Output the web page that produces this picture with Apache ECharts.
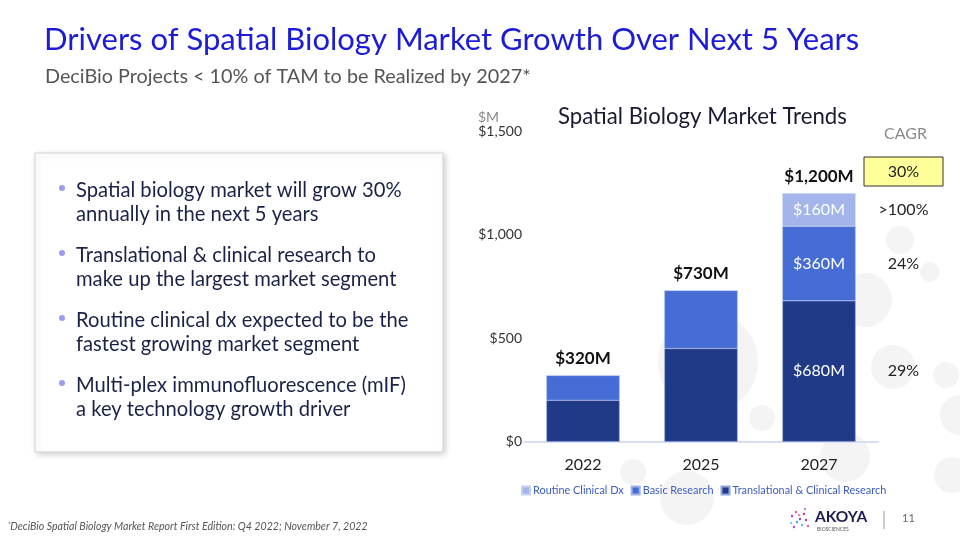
<!DOCTYPE html>
<html><head><meta charset="utf-8">
<script src="https://cdn.jsdelivr.net/npm/echarts@6/dist/echarts.min.js"></script>
<style>html,body{margin:0;padding:0;background:#fff}#c{width:960px;height:540px}</style>
</head><body><div id="c"></div>
<script>
const categories = ['2022', '2025', '2027'];
const translational = [200, 450, 680];
const basic = [120, 280, 360];
const routine = [0, 0, 160];
const seriesNames = ['Translational & Clinical Research', 'Basic Research', 'Routine Clinical Dx'];
const cagrSegments = ['29%', '24%', '>100%'];
const cagrTotal = '30%';
const yTicks = [0, 500, 1000, 1500];
const bullets = [
  ['Spatial biology market will grow 30%', 'annually in the next 5 years'],
  ['Translational & clinical research to', 'make up the largest market segment'],
  ['Routine clinical dx expected to be the', 'fastest growing market segment'],
  ['Multi-plex immunofluorescence (mIF)', 'a key technology growth driver']
];

const totals = categories.map((c, i) => translational[i] + basic[i] + routine[i]);
const colors = { dark: '#213a88', mid: '#466cd5', light: '#a3b5ea' };
const fmtMoney = v => '$' + v.toLocaleString('en-US');

const chart = echarts.init(document.getElementById('c'), null, { renderer: 'canvas' });

const bubbles = [
  [865, 300, 27], [930, 272, 10], [708, 362, 50], [762, 418, 13], [893, 367, 22],
  [946, 375, 13], [960, 415, 20], [633, 472, 13], [687, 498, 27], [845, 457, 25],
  [952, 475, 18], [900, 240, 14]
];

const insideLabel = (arr) => arr.map((v, i) => ({
  value: v,
  label: { show: i === 2 && v > 0 }
}));

const labelCfg = {
  position: 'inside', color: '#ffffff', fontSize: 16,
  fontFamily: 'Lato, sans-serif',
  formatter: p => '$' + p.value + 'M'
};

const graphics = [];
bubbles.forEach(b => graphics.push({
  type: 'circle', shape: { cx: b[0], cy: b[1], r: b[2] }, style: { fill: '#f4f4f4' }, z: -10, silent: true
}));

graphics.push(
  { type: 'text', left: 44, top: 24, style: { text: 'Drivers of Spatial Biology Market Growth Over Next 5 Years', fill: '#1c1cd8', font: '31px Lato, sans-serif' } },
  { type: 'text', left: 45, top: 67, style: { text: 'DeciBio Projects < 10% of TAM to be Realized by 2027*', fill: '#555555', font: '19.8px Lato, sans-serif' } },
  { type: 'rect', shape: { x: 35, y: 153, width: 408, height: 299 }, style: { fill: '#ffffff', stroke: '#d4d4d4', lineWidth: 1, shadowBlur: 6, shadowColor: 'rgba(0,0,0,0.18)', shadowOffsetX: 2, shadowOffsetY: 2 }, z: 1 },
  { type: 'text', left: 478, top: 110, style: { text: '$M', fill: '#8a8a8a', font: '14px Lato, sans-serif' } },
  { type: 'text', left: 884, top: 126, style: { text: 'CAGR', fill: '#8a8a8a', font: '16px Lato, sans-serif' } },
  { type: 'rect', shape: { x: 864, y: 157, width: 79, height: 29 }, style: { fill: '#ffff99', stroke: '#333333', lineWidth: 1 }, z: 5 },
  { type: 'text', x: 903.5, y: 172, style: { text: cagrTotal, fill: '#222', font: '16px Lato, sans-serif', textAlign: 'center', textVerticalAlign: 'middle' }, z: 6 },
  { type: 'text', left: 8, top: 521, style: { text: '{s|*}{t|DeciBio Spatial Biology Market Report First Edition: Q4 2022; November 7, 2022}', rich: { s: { fontSize: 6, fill: '#666', verticalAlign: 'top', fontStyle: 'italic' }, t: { fontSize: 10.6, fill: '#555', fontStyle: 'italic', fontFamily: 'Lato, sans-serif' } } } },
  { type: 'text', left: 815, top: 509, style: { text: 'AKOYA', fill: '#1e1e4e', font: 'bold 15.5px Lato, sans-serif' } },
  { type: 'text', left: 817, top: 527, style: { text: 'BIOSCIENCES', fill: '#555', font: '5px Lato, sans-serif' } },
  { type: 'line', shape: { x1: 884, y1: 511, x2: 884, y2: 529 }, style: { stroke: '#999', lineWidth: 1 } },
  { type: 'text', left: 902, top: 513, style: { text: '11', fill: '#666', font: '11px Lato, sans-serif' } }
);

const logoDots = [[792,516,'#c43cc0'],[796,512,'#e05aa0'],[800,519,'#8a4fd0'],[804,514,'#d43a8a'],[797,522,'#40a8e0'],[802,525,'#5fb8e8'],[806,520,'#b040c0'],[808,526,'#e060b0'],[791,523,'#7fc8f0'],[794,527,'#a050d0'],[799,515,'#f080c0'],[805,509,'#c080e0']];
logoDots.forEach(d => graphics.push({ type: 'circle', shape: { cx: d[0], cy: d[1], r: 1.2 }, style: { fill: d[2] } }));

bullets.forEach((b, i) => {
  const top = 178 + i * 65;
  graphics.push({ type: 'circle', shape: { cx: 62, cy: top + 10, r: 3 }, style: { fill: '#9b9bef' }, z: 3 });
  graphics.push({ type: 'text', left: 76, top: top, style: { text: b.join('\n'), fill: '#1b2247', font: '20.2px Lato, sans-serif', lineHeight: 24 }, z: 3 });
});

const option = {
  animation: false,
  backgroundColor: '#ffffff',
  title: {
    text: 'Spatial Biology Market Trends', left: 558, top: 106, padding: 0,
    textStyle: { color: '#1a1a33', fontSize: 22.2, fontWeight: 'normal', fontFamily: 'Lato, sans-serif' }
  },
  legend: {
    data: ['Routine Clinical Dx', 'Basic Research', 'Translational & Clinical Research'],
    left: 521, top: 485, itemWidth: 8, itemHeight: 8, itemGap: 7, padding: 0,
    icon: 'rect',
    textStyle: { color: '#3d5cc2', fontSize: 10.9, fontFamily: 'Lato, sans-serif', padding: [0, 0, 0, -2] }
  },
  grid: { left: 524, right: 82, top: 131, bottom: 98.3, containLabel: false },
  xAxis: {
    type: 'category', data: categories,
    axisLine: { lineStyle: { color: '#d9ddf2', width: 2 } },
    axisTick: { show: false },
    axisLabel: { color: '#222', fontSize: 16, margin: 15, fontFamily: 'Lato, sans-serif' }
  },
  yAxis: {
    type: 'value', min: 0, max: 1500, interval: 500,
    splitLine: { show: false },
    axisLine: { show: false }, axisTick: { show: false },
    axisLabel: { color: '#333', fontSize: 14, margin: 2, fontFamily: 'Lato, sans-serif', formatter: v => fmtMoney(v) }
  },
  series: [
    { name: seriesNames[0], type: 'bar', stack: 't', barWidth: '62%', data: insideLabel(translational), itemStyle: { color: colors.dark, borderColor: '#8fa3e0', borderWidth: 0.5 }, label: labelCfg },
    { name: seriesNames[1], type: 'bar', stack: 't', data: insideLabel(basic), itemStyle: { color: colors.mid, borderColor: '#9fb0e8', borderWidth: 0.5 }, label: labelCfg },
    { name: seriesNames[2], type: 'bar', stack: 't', data: insideLabel(routine), itemStyle: { color: colors.light, borderColor: '#c6d0f3', borderWidth: 0.5 }, label: labelCfg },
    { name: 'Total', type: 'line', data: totals, symbol: 'circle', symbolSize: 1, showSymbol: true,
      itemStyle: { color: 'rgba(0,0,0,0)' }, lineStyle: { opacity: 0 }, silent: true,
      label: { show: true, position: 'top', distance: 8, color: '#111', fontSize: 17, fontWeight: 'bold', fontFamily: 'Lato, sans-serif', formatter: p => fmtMoney(p.value) + 'M' } }
  ],
  graphic: graphics
};
chart.setOption(option);

// CAGR annotations aligned with 2027 segment midpoints
const segs = [translational[2], basic[2], routine[2]];
let base = 0;
const cagrGraphics = segs.map((v, i) => {
  const mid = base + v / 2;
  base += v;
  const y = chart.convertToPixel({ yAxisIndex: 0 }, mid);
  return { type: 'text', x: 903.5, y: y, style: { text: cagrSegments[i], fill: '#222', font: '16px Lato, sans-serif', textAlign: 'center', textVerticalAlign: 'middle' } };
});
chart.setOption({ graphic: graphics.concat(cagrGraphics) });
</script></body></html>
